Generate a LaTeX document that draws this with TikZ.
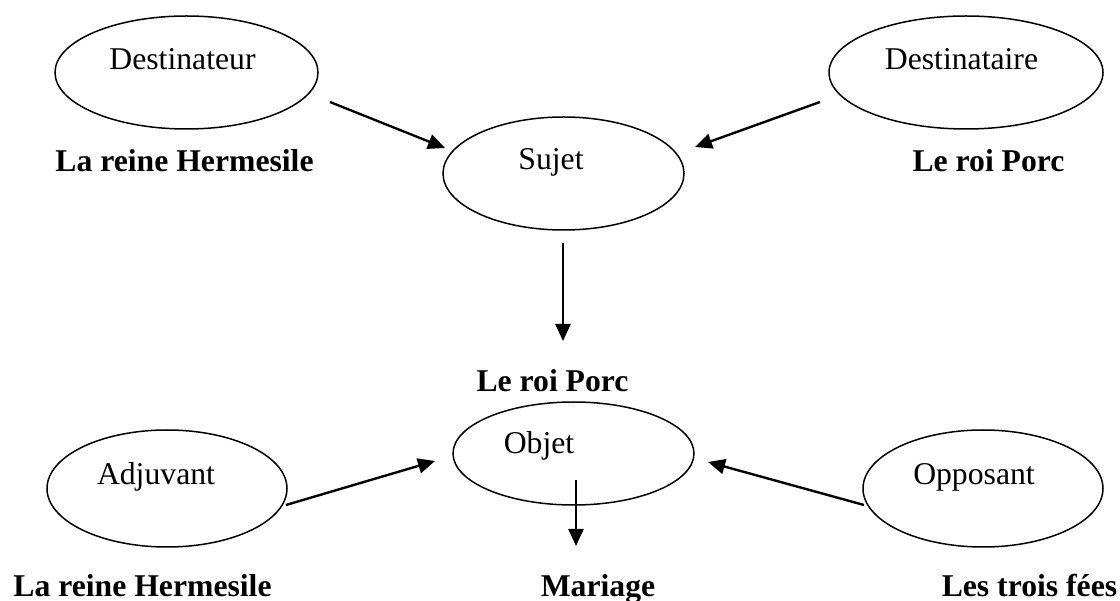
\documentclass[tikz,border=0pt]{standalone}
\usepackage{fontspec}
\setmainfont{Liberation Serif}
\usetikzlibrary{shapes.geometric,arrows.meta}
\tikzset{
  ell/.style={draw, ellipse, line width=1.5pt, inner sep=0pt},
  lbl/.style={anchor=base, inner sep=0pt, font=\fontsize{31.7pt}{38pt}\selectfont},
  role/.style={anchor=base, inner sep=0pt, font=\fontsize{31.7pt}{38pt}\selectfont\bfseries},
  arr/.style={line width=2.4pt, -{Triangle[length=17pt,width=15pt]}}
}
\begin{document}
\begin{tikzpicture}[x=1pt,y=-1pt]
\useasboundingbox (0,0) rectangle (1120,601);
% ellipses
\node[ell, minimum width=263pt, minimum height=113pt] (dest) at (186.5,72.5) {};
\node[ell, minimum width=274pt, minimum height=113pt] (destr) at (966,72.5) {};
\node[ell, minimum width=241pt, minimum height=113pt] (sujet) at (563.5,173.5) {};
\node[ell, minimum width=241pt, minimum height=103pt] (objet) at (573.5,453.5) {};
\node[ell, minimum width=240pt, minimum height=117pt] (adj) at (167,488.5) {};
\node[ell, minimum width=240pt, minimum height=117pt] (opp) at (983,488.5) {};
% ellipse labels
\node[lbl] (tdest) at (182.5,70) {Destinateur};
\node[lbl] (tdestr) at (961.5,70) {Destinataire};
\node[lbl] (tsujet) at (551,170) {Sujet};
\node[lbl] (tobjet) at (539,454) {Objet};
\node[lbl] (tadj) at (156,485) {Adjuvant};
\node[lbl] (topp) at (974,485) {Opposant};
% role names
\node[role] (r1) at (184.5,172) {La reine Hermesile};
\node[role] (r2) at (988.5,172) {Le roi Porc};
\node[role] (r3) at (552.5,392) {Le roi Porc};
\node[role] (r4) at (142.5,596) {La reine Hermesile};
\node[role] (r5) at (598,596) {Mariage};
\node[role] (r6) at (1029.5,596) {Les trois fées};
% arrow ends
\coordinate (a1s) at (330,102);  \coordinate (a1e) at (445,148);
\coordinate (a2s) at (820,102);  \coordinate (a2e) at (695,147);
\coordinate (a3s) at (563,243);  \coordinate (a3e) at (563,341);
\coordinate (a4s) at (286,505);  \coordinate (a4e) at (435,461);
\coordinate (a5s) at (864,505);  \coordinate (a5e) at (708,462);
\coordinate (a6s) at (576,480);  \coordinate (a6e) at (576,546);
\draw[arr] (a1s) -- (a1e);
\draw[arr] (a2s) -- (a2e);
\draw[arr] (a3s) -- (a3e);
\draw[arr] (a4s) -- (a4e);
\draw[arr] (a5s) -- (a5e);
\draw[arr] (a6s) -- (a6e);
\end{tikzpicture}
\end{document}
